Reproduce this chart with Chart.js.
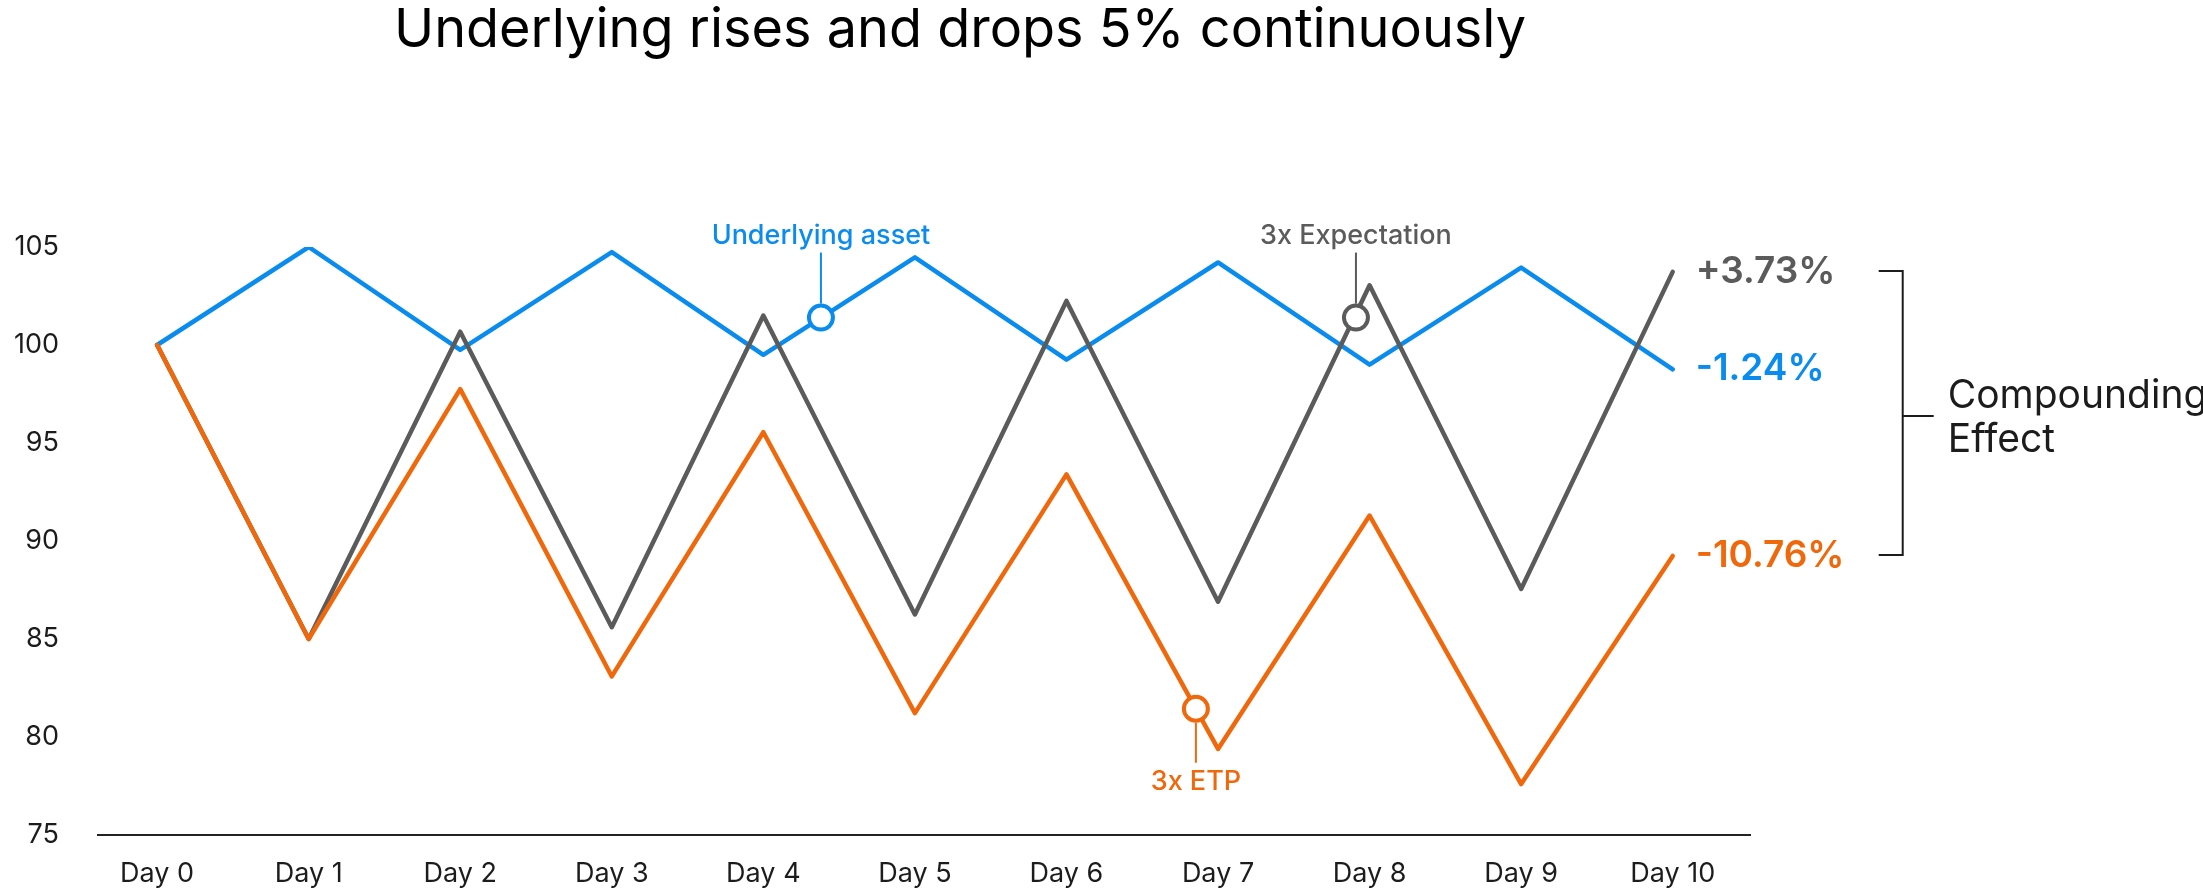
<!DOCTYPE html>
<html lang="en">
<head>
  <meta charset="UTF-8" />
  <title>Underlying rises and drops 5% continuously</title>
  <script src="https://cdn.jsdelivr.net/npm/chart.js"></script>
  <style>
    html, body {
      margin: 0;
      padding: 0;
      background: #fff;
    }
    canvas {
      display: block;
    }
  </style>
</head>
<body>

  <canvas id="compChart" width="2203" height="894"></canvas>

  <script>
    // data
    const days = ['Day 0', 'Day 1', 'Day 2', 'Day 3', 'Day 4', 'Day 5', 'Day 6', 'Day 7', 'Day 8', 'Day 9', 'Day 10'];
    const underlying = [100, 105, 99.75, 104.74, 99.5, 104.47, 99.25, 104.21, 99.0, 103.95, 98.76];
    const etp3x = [100, 85, 97.75, 83.09, 95.55, 81.22, 93.4, 79.39, 91.3, 77.6, 89.24];
    const expectation3x = [100, 85, 100.68, 85.6, 101.5, 86.25, 102.25, 86.9, 103.05, 87.55, 103.73];
    const yTicks = [75, 80, 85, 90, 95, 100, 105];
    const endLabels = ['+3.73%', '-1.24%', '-10.76%'];

    // series callouts: [text, x, y, above?]
    const calloutUnderlying = ['Underlying asset', 4.38, 101.4, true];
    const calloutExpectation = ['3x Expectation', 7.91, 101.4, true];
    const calloutEtp = ['3x ETP', 6.854, 81.44, false];

    const titleText = 'Underlying rises and drops 5% continuously';
    const bracketText = ['Compounding', 'Effect'];

    const BLUE = '#0A8CEE';
    const ORANGE = '#F0680C';
    const GREY = '#5B5B5B';
    const INK = '#1c1c1c';

    const pts = arr => arr.map((v, i) => ({ x: i, y: v }));

    function marker(c, color) {
      return {
        type: 'scatter',
        data: [{ x: c[1], y: c[2] }],
        pointRadius: 12,
        pointHoverRadius: 12,
        pointBorderWidth: 4,
        pointBorderColor: color,
        pointBackgroundColor: '#fff',
        borderColor: color,
        backgroundColor: '#fff'
      };
    }

    function lineSet(arr, color) {
      return {
        type: 'line',
        data: pts(arr),
        borderColor: color,
        borderWidth: 4.5,
        borderJoinStyle: 'round',
        borderCapStyle: 'round',
        pointRadius: 0,
        tension: 0,
        fill: false
      };
    }

    // labels, leader lines, bracket and title
    const overlay = {
      id: 'overlay',
      afterDatasetsDraw(chart) {
        const { ctx, scales: { x, y } } = chart;
        ctx.save();

        ctx.fillStyle = '#000';
        ctx.font = '400 54px Inter';
        ctx.textAlign = 'center';
        ctx.textBaseline = 'middle';
        ctx.fillText(titleText, 960, 31);

        // callouts
        [[calloutUnderlying, BLUE], [calloutExpectation, GREY], [calloutEtp, ORANGE]].forEach(([c, color]) => {
          const px = x.getPixelForValue(c[1]);
          const py = y.getPixelForValue(c[2]);
          ctx.strokeStyle = color;
          ctx.fillStyle = color;
          ctx.lineWidth = 2;
          ctx.beginPath();
          if (c[3]) {
            ctx.moveTo(px, py - 14);
            ctx.lineTo(px, py - 65);
          } else {
            ctx.moveTo(px, py + 14);
            ctx.lineTo(px, py + 54);
          }
          ctx.stroke();
          ctx.font = '500 27px Inter';
          ctx.fillText(c[0], px, c[3] ? py - 82 : py + 73);
        });

        // end values
        const last = days.length - 1;
        const ex = x.getPixelForValue(last);
        const yGrey = y.getPixelForValue(expectation3x[last]);
        const yBlue = y.getPixelForValue(underlying[last]);
        const yOrange = y.getPixelForValue(etp3x[last]);
        ctx.textAlign = 'left';
        ctx.font = '600 37px Inter';
        ctx.fillStyle = GREY;
        ctx.fillText(endLabels[0], ex + 23, yGrey);
        ctx.fillStyle = BLUE;
        ctx.fillText(endLabels[1], ex + 23, yBlue);
        ctx.fillStyle = ORANGE;
        ctx.fillText(endLabels[2], ex + 23, yOrange);

        // bracket
        const bx = ex + 230;
        const mid = (yGrey + yOrange) / 2 + 2;
        ctx.strokeStyle = INK;
        ctx.lineWidth = 2;
        ctx.beginPath();
        ctx.moveTo(bx - 24, yGrey - 1);
        ctx.lineTo(bx, yGrey - 1);
        ctx.lineTo(bx, yOrange - 1);
        ctx.lineTo(bx - 24, yOrange - 1);
        ctx.moveTo(bx, mid);
        ctx.lineTo(bx + 31, mid);
        ctx.stroke();

        ctx.fillStyle = INK;
        ctx.font = '400 39px Inter';
        ctx.fillText(bracketText[0], bx + 45, mid - 20);
        ctx.fillText(bracketText[1], bx + 45, mid + 24);

        ctx.restore();
      }
    };

    const chart = new Chart(document.getElementById('compChart').getContext('2d'), {
      data: {
        datasets: [
          marker(calloutEtp, ORANGE),
          marker(calloutExpectation, GREY),
          marker(calloutUnderlying, BLUE),
          lineSet(etp3x, ORANGE),
          lineSet(expectation3x, GREY),
          lineSet(underlying, BLUE)
        ]
      },
      options: {
        responsive: false,
        animation: false,
        layout: {
          padding: { top: 247, right: 453, bottom: 5, left: 12 }
        },
        plugins: {
          legend: { display: false },
          tooltip: { enabled: false }
        },
        scales: {
          x: {
            type: 'linear',
            min: -0.39,
            max: 10.51,
            afterBuildTicks: s => { s.ticks = days.map((d, i) => ({ value: i })); },
            afterFit: s => { s.height = 54; },
            grid: { display: false, drawTicks: false },
            border: { display: true, color: '#222', width: 2 },
            ticks: {
              padding: 23,
              color: INK,
              maxRotation: 0,
              font: { family: 'Inter', size: 27 },
              callback: v => days[v]
            }
          },
          y: {
            min: 75,
            max: 105,
            afterBuildTicks: s => { s.ticks = yTicks.map(v => ({ value: v })); },
            afterFit: s => { s.width = 86; },
            grid: { display: false, drawTicks: false },
            border: { display: false },
            ticks: {
              padding: 39,
              color: INK,
              font: { family: 'Inter', size: 27 }
            }
          }
        }
      },
      plugins: [overlay]
    });
  </script>

</body>
</html>
